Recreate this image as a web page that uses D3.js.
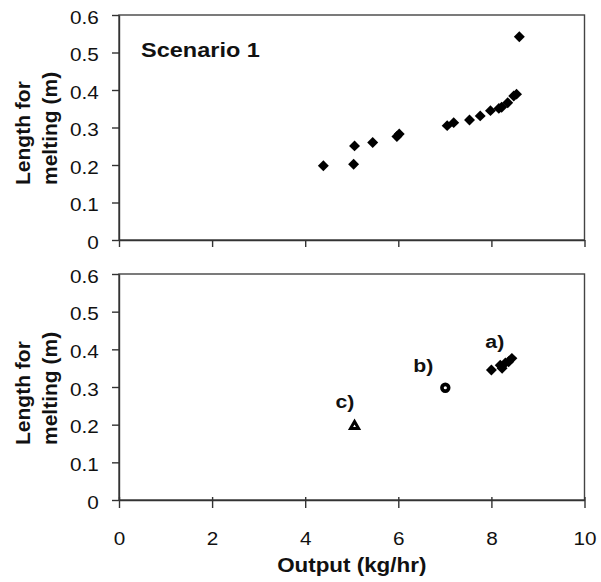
<!DOCTYPE html>
<html>
<head>
<meta charset="utf-8">
<script src="https://cdn.jsdelivr.net/npm/d3@7"></script>
<style>
  body { margin: 0; background: #fff; }
  text { font-family: "Liberation Sans", Arial, sans-serif; fill: #111; }
  .axis path, .axis line { stroke: #333; stroke-width: 1.4; }
  .axis text { font-size: 18.5px; }
  .frame { fill: none; stroke: #444; stroke-width: 1.4; }
</style>
</head>
<body>
<div id="svg_container"></div>
<script>
// DATA

// Scenario 1 (top panel)
let top_output = [4.39, 5.04, 5.06, 5.45, 5.97, 6.02, 7.05, 7.19, 7.53, 7.76, 7.98, 8.16, 8.22, 8.35, 8.48, 8.54, 8.60]
let top_length = [0.198, 0.202, 0.251, 0.260, 0.276, 0.283, 0.305, 0.313, 0.320, 0.331, 0.345, 0.351, 0.354, 0.366, 0.384, 0.389, 0.542]

// bottom panel series
let a_output = [8.00, 8.19, 8.23, 8.30, 8.37, 8.44]
let a_length = [0.345, 0.358, 0.350, 0.364, 0.367, 0.376]
let b_output = [7.01]
let b_length = [0.298]
let c_output = [5.06]
let c_length = [0.196]

// annotation labels (data coords of text start / baseline)
let label_text = ["a)", "b)", "c)"]
let label_output = [7.87, 6.32, 4.65]
let label_length = [0.403, 0.340, 0.244]

let x_ticks = [0, 2, 4, 6, 8, 10]
let y_ticks = [0, 0.1, 0.2, 0.3, 0.4, 0.5, 0.6]

// CHART AREA
let width = 601, height = 582
let plot_left = 119, plot_right = 584.5

let svg = d3.select("#svg_container").append("svg")
    .attr("width", width)
    .attr("height", height)

let stretch = "scale(1.12,1)"

// SCALES
let x_scale = d3.scaleLinear().domain([0, 10]).range([plot_left, plot_right])
let y_top = d3.scaleLinear().domain([0, 0.6]).range([240, 15])
let y_bottom = d3.scaleLinear().domain([0, 0.6]).range([500, 274])

let y_format = d => d === 0 ? "0" : d.toFixed(1)

function drawPanel(y_scale, show_x_labels) {
    let top = y_scale.range()[1], bottom = y_scale.range()[0]

    // frame (top + right)
    svg.append("rect")
        .attr("class", "frame")
        .attr("x", plot_left)
        .attr("y", top)
        .attr("width", plot_right - plot_left)
        .attr("height", bottom - top)

    // y axis
    let y_axis = d3.axisLeft(y_scale)
        .tickValues(y_ticks)
        .tickFormat(y_format)
        .tickSizeInner(7)
        .tickSizeOuter(0)
        .tickPadding(11)
    let y_group = svg.append("g")
        .attr("class", "axis")
        .attr("transform", "translate(" + plot_left + ",0)")
        .call(y_axis)
    y_group.selectAll("text")
        .attr("dy", "0.45em")
        .attr("transform", stretch)

    // x axis
    let x_axis = d3.axisBottom(x_scale)
        .tickValues(x_ticks)
        .tickSizeInner(show_x_labels ? 8 : 7)
        .tickSizeOuter(0)
        .tickPadding(24)
        .tickFormat(show_x_labels ? d3.format("d") : () => "")
    let x_group = svg.append("g")
        .attr("class", "axis")
        .attr("transform", "translate(0," + bottom + ")")
        .call(x_axis)
    x_group.selectAll("text").attr("transform", stretch)
    if (show_x_labels) {
        x_group.selectAll(".tick line").attr("y1", -3)
    }

    // y title
    let title = svg.append("text")
        .attr("transform", "translate(0," + (bottom - 55) + ") rotate(-90)")
        .style("font-size", "21px")
        .style("font-weight", "bold")
    title.append("tspan").attr("x", 0).attr("y", 30).text("Length for")
    title.append("tspan").attr("x", 0).attr("y", 57).text("melting (m)")
}

drawPanel(y_top, false)
drawPanel(y_bottom, true)

// DRAWING THE POINTS
let diamond = d3.symbol().type(d3.symbolSquare).size(60)

let top_points = top_output.map((d, i) => ({x: d, y: top_length[i]}))
svg.selectAll(".top-point")
    .data(top_points)
    .enter()
    .append("path")
    .attr("class", "top-point")
    .attr("d", diamond)
    .attr("transform", d => "translate(" + x_scale(d.x) + "," + y_top(d.y) + ") rotate(45)")
    .attr("fill", "#000")

let a_points = a_output.map((d, i) => ({x: d, y: a_length[i]}))
svg.selectAll(".a-point")
    .data(a_points)
    .enter()
    .append("path")
    .attr("class", "a-point")
    .attr("d", diamond)
    .attr("transform", d => "translate(" + x_scale(d.x) + "," + y_bottom(d.y) + ") rotate(45)")
    .attr("fill", "#000")

let b_points = b_output.map((d, i) => ({x: d, y: b_length[i]}))
svg.selectAll(".b-point")
    .data(b_points)
    .enter()
    .append("circle")
    .attr("class", "b-point")
    .attr("cx", d => x_scale(d.x))
    .attr("cy", d => y_bottom(d.y))
    .attr("r", 3.4)
    .attr("fill", "#fff")
    .attr("stroke", "#000")
    .attr("stroke-width", 3.6)

let c_points = c_output.map((d, i) => ({x: d, y: c_length[i]}))
svg.selectAll(".c-point")
    .data(c_points)
    .enter()
    .append("path")
    .attr("class", "c-point")
    .attr("d", d3.symbol().type(d3.symbolTriangle).size(28))
    .attr("transform", d => "translate(" + x_scale(d.x) + "," + y_bottom(d.y) + ")")
    .attr("fill", "#fff")
    .attr("stroke", "#000")
    .attr("stroke-width", 3)

// LABELS
svg.selectAll(".series-label")
    .data(label_text)
    .enter()
    .append("text")
    .attr("class", "series-label")
    .attr("transform", (d, i) => "translate(" + x_scale(label_output[i]) + "," + y_bottom(label_length[i]) + ") " + stretch)
    .style("font-size", "19px")
    .style("font-weight", "bold")
    .text(d => d)

svg.append("text")
    .attr("transform", "translate(141,57) " + stretch)
    .style("font-size", "21px")
    .style("font-weight", "bold")
    .text("Scenario 1")

svg.append("text")
    .attr("transform", "translate(" + ((plot_left + plot_right) / 2) + ",572) " + stretch)
    .attr("text-anchor", "middle")
    .style("font-size", "20px")
    .style("font-weight", "bold")
    .text("Output (kg/hr)")
</script>
</body>
</html>
